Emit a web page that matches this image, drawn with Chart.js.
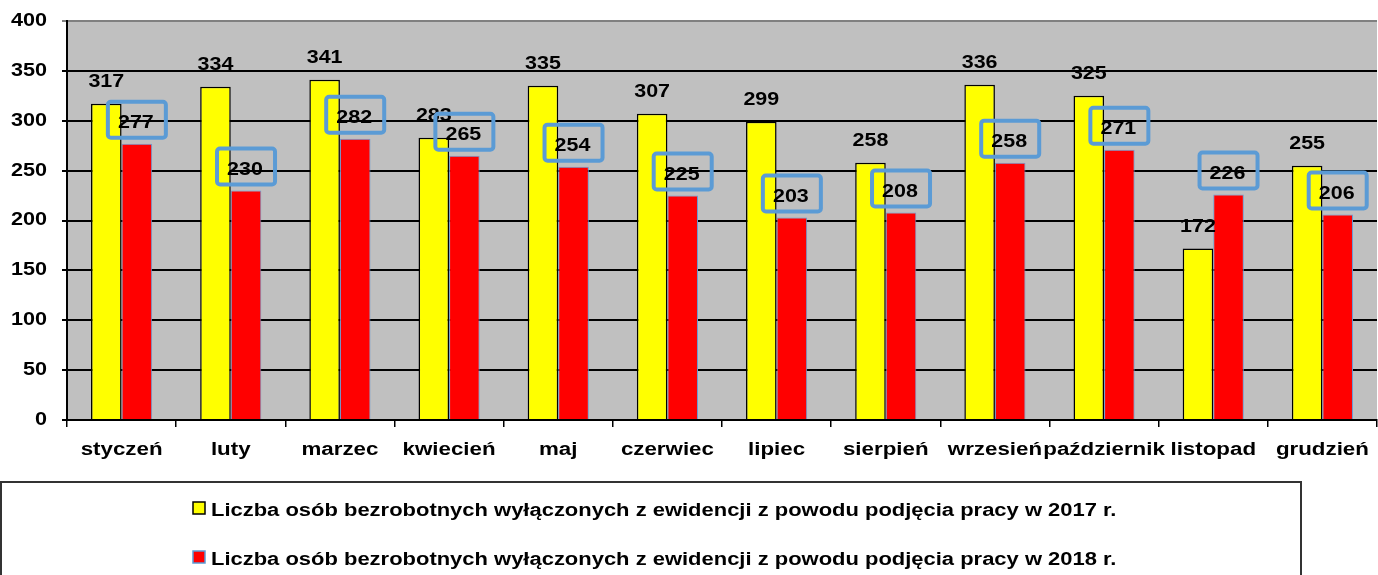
<!DOCTYPE html>
<html><head><meta charset="utf-8">
<script src="https://cdn.jsdelivr.net/npm/chart.js@4.4.0/dist/chart.umd.min.js"></script>
<style>html,body{margin:0;padding:0;background:#fff}#wrap{width:1378px;height:575px;position:relative}</style>
</head><body><div id="wrap"><canvas id="c" width="1378" height="575"></canvas></div>
<script>
const categories = ['styczeń','luty','marzec','kwiecień','maj','czerwiec','lipiec','sierpień','wrzesień','październik','listopad','grudzień'];
const values2017 = [317,334,341,283,335,307,299,258,336,325,172,255];
const values2018 = [277,230,282,265,254,225,203,208,258,271,226,206];
const label2017 = 'Liczba osób bezrobotnych wyłączonych z ewidencji z powodu podjęcia pracy w 2017 r.';
const label2018 = 'Liczba osób bezrobotnych wyłączonych z ewidencji z powodu podjęcia pracy w 2018 r.';
const FONT = '"Liberation Sans", Arial, sans-serif';

function stretchText(ctx, t, x, y, sx){
  ctx.save(); ctx.translate(x,y); ctx.scale(sx,1); ctx._origFill(t,0,0); ctx.restore();
}

const plotBg = {
  id:'plotBg',
  beforeDraw(chart){
    const {ctx, chartArea:a} = chart;
    if(!ctx._origFill){
      ctx._origFill = ctx.fillText.bind(ctx);
      ctx._sx = 1;
      ctx.fillText = function(t,x,y,mw){
        if(this._sx===1) return this._origFill(t,x,y);
        if(this.textAlign==='right') return stretchText(this,t,x-7,y,1.2);
        stretchText(this,t,x,y,this._sx);
      };
    }
    ctx._sx = 1.24;
    ctx.save(); ctx.fillStyle='#C0C0C0'; ctx.fillRect(a.left,a.top,a.right-a.left,a.bottom-a.top); ctx.restore();
  },
  beforeDatasetsDraw(chart){ chart.ctx._sx = 1; },
  afterDatasetsDraw(chart){
    const ctx = chart.ctx;
    ctx.save();
    ctx.font = 'bold 19px ' + FONT;
    ctx.fillStyle = '#000'; ctx.textAlign='center'; ctx.textBaseline='middle';
    const m0 = chart.getDatasetMeta(0), m1 = chart.getDatasetMeta(1);
    m0.data.forEach((b,i)=>{ stretchText(ctx, String(values2017[i]), b.x, b.y-22, 1.13); });
    m1.data.forEach((b,i)=>{
      const w=58,h=36,bx=b.x-w/2,by=b.y-6-h;
      ctx.strokeStyle='#5B9BD5'; ctx.lineWidth=4;
      ctx.beginPath(); ctx.roundRect(bx,by,w,h,3); ctx.stroke();
      ctx.fillStyle='#000';
      stretchText(ctx, String(values2018[i]), b.x-1, by+h/2+3, 1.13);
    });
    ctx.restore();
  },
  afterDraw(chart){
    const ctx = chart.ctx;
    ctx.save();
    ctx.strokeStyle='#333'; ctx.lineWidth=2;
    ctx.strokeRect(1,482,1300,100);
    ctx.font='bold 18px '+FONT;
    ctx.textAlign='left'; ctx.textBaseline='middle';
    const items=[[label2017,'#FFFF00','#000',508],[label2018,'#FF0000','#5B9BD5',557]];
    items.forEach(([t,f,s,y])=>{
      ctx.fillStyle=f; ctx.fillRect(193,y-6,12,12);
      ctx.strokeStyle=s; ctx.lineWidth=1.5; ctx.strokeRect(193,y-6,12,12);
      ctx.fillStyle='#000'; stretchText(ctx,t,211,y+3,1.22);
    });
    ctx.restore();
  }
};

new Chart(document.getElementById('c'),{
  type:'bar',
  data:{labels:categories,datasets:[
    {label:label2017,data:values2017,backgroundColor:'#FFFF00',borderColor:'#000',borderWidth:1.5,barPercentage:1,categoryPercentage:0.56},
    {label:label2018,data:values2018,backgroundColor:'#FF0000',borderColor:'#6A9BD5',borderWidth:1,barPercentage:1,categoryPercentage:0.56}
  ]},
  options:{
    responsive:false,animation:false,
    layout:{padding:{top:21,right:1,left:0,bottom:0}},
    plugins:{legend:{display:false},tooltip:{enabled:false}},
    scales:{
      x:{
        grid:{drawOnChartArea:false,drawTicks:true,tickLength:7,color:'#000',lineWidth:1.5,offset:true},
        border:{color:'#000',width:2},
        ticks:{font:{family:FONT,size:18,weight:'bold'},color:'#000',padding:12,maxRotation:0,autoSkip:false},
        afterFit(s){s.height=155;}
      },
      y:{
        min:0,max:400,
        ticks:{stepSize:50,font:{family:FONT,size:18,weight:'bold'},color:'#000',padding:8},
        grid:{color:(c)=>c.tick&&c.tick.value===400?'#808080':'#000',lineWidth:2,tickLength:5},
        border:{color:'#000',width:2},
        afterFit(s){s.width=67;}
      }
    }
  },
  plugins:[plotBg]
});
</script></body></html>
